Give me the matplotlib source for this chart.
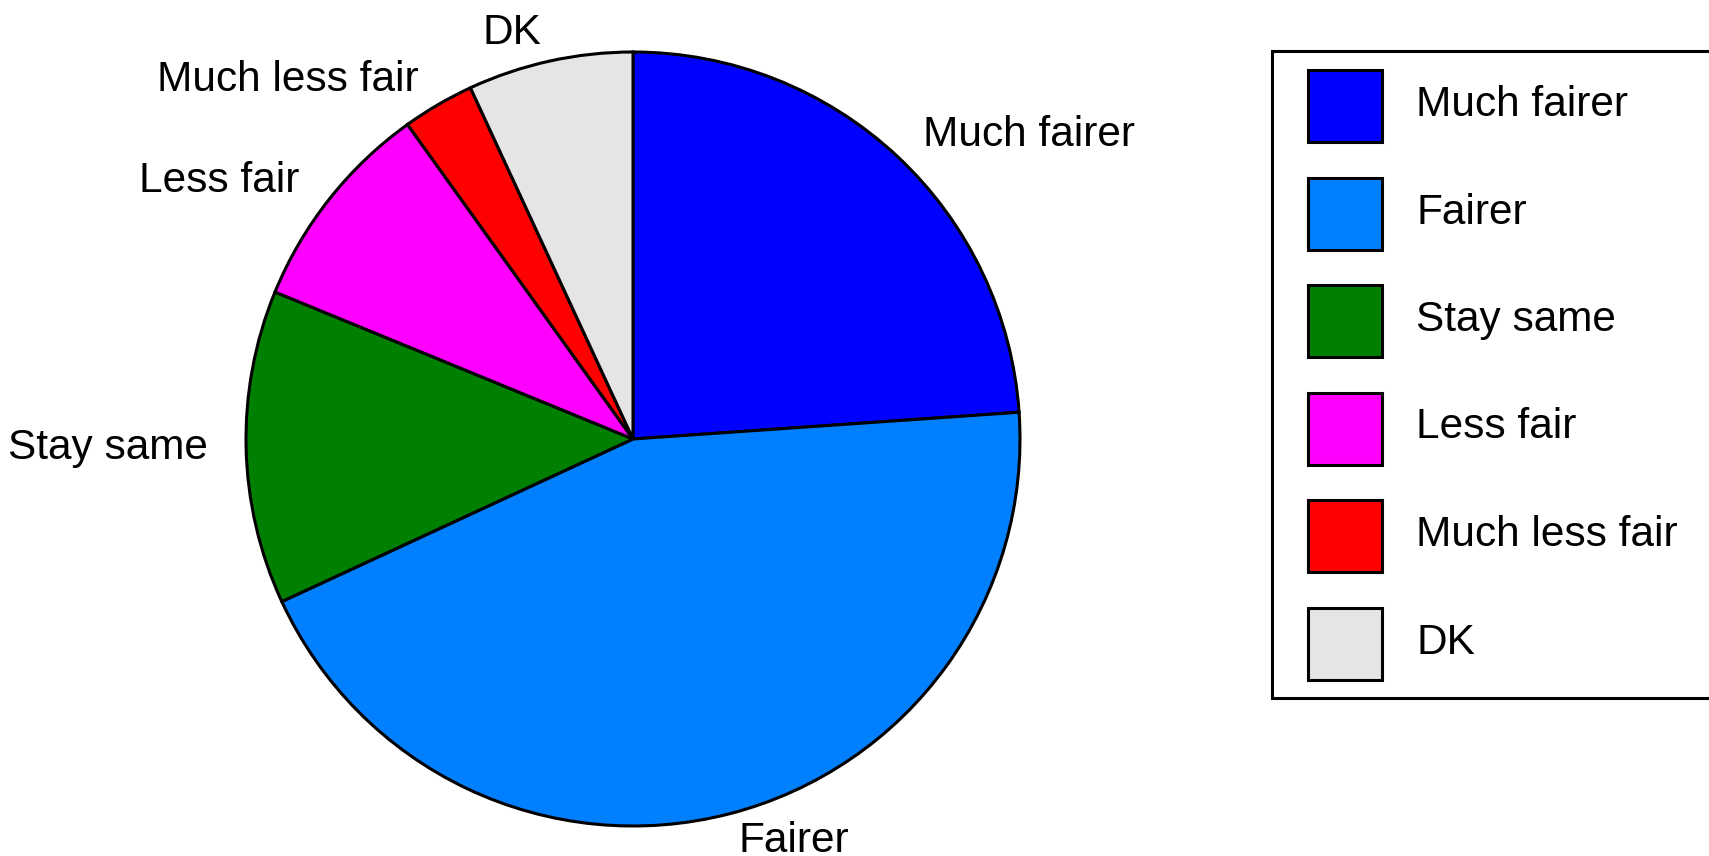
import matplotlib
matplotlib.use("Agg")
import matplotlib.pyplot as plt
from matplotlib.patches import Rectangle

plt.rcParams['font.family'] = ['Liberation Sans', 'DejaVu Sans']

# survey answers (percent)
categories = ["Much fairer", "Fairer", "Stay same", "Less fair", "Much less fair", "DK"]
shares = [23.9, 44.2, 13.1, 8.9, 3.0, 6.9]
colors = ["#0000ff", "#0080ff", "#008000", "#ff00ff", "#ff0000", "#e5e5e5"]

W, H = 1709, 856
FS = 30.5

fig = plt.figure(figsize=(W / 100, H / 100), dpi=100)
fig.patch.set_facecolor('white')

# pie axes placed so the circle sits at (633, 439) px with radius 387 px
cx, cy, r = 633, 439, 387
lim = 1.25
half = lim * r
ax = fig.add_axes([(cx - half) / W, (H - cy - half) / H, 2 * half / W, 2 * half / H])

wedges, texts = ax.pie(shares, labels=categories, colors=colors, startangle=90,
                       counterclock=False, labeldistance=1.1,
                       wedgeprops=dict(edgecolor='black', linewidth=2.2),
                       textprops=dict(fontsize=FS, color='black'))
# labels sit a little closer to the pie vertically than horizontally
for t in texts:
    x, y = t.get_position()
    t.set_position((x, y * 0.976))

ax.set_xlim(-lim, lim)
ax.set_ylim(-lim, lim)
ax.set_aspect('equal')
ax.axis('off')


def fx(px):
    return px / W


def fy(py):
    return 1 - py / H


# legend box drawn by hand (its right side runs past the figure edge)
fig.add_artist(Rectangle((fx(1272), fy(698)), fx(1730) - fx(1272), fy(51) - fy(698),
                         transform=fig.transFigure, facecolor='white',
                         edgecolor='black', linewidth=2.2))
row_top, row_step, box_w, box_h = 70, 107.5, 74, 72
for i, (name, col) in enumerate(zip(categories, colors)):
    top = row_top + i * row_step
    fig.add_artist(Rectangle((fx(1308), fy(top + box_h)), box_w / W, box_h / H,
                             transform=fig.transFigure, facecolor=col,
                             edgecolor='black', linewidth=2.2))
    fig.text(fx(1416), fy(top + box_h / 2 + 10), name, fontsize=FS,
             va='baseline', ha='left')

fig.savefig("out.png", dpi=100)
